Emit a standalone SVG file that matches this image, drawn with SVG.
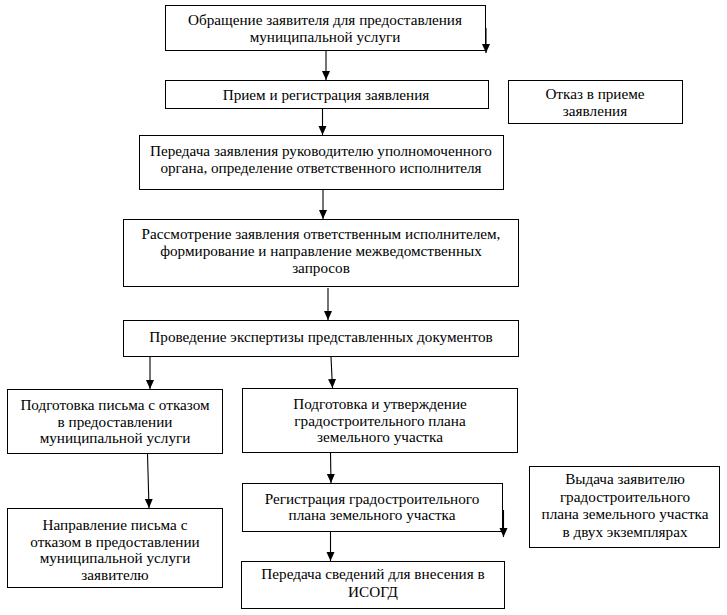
<svg xmlns="http://www.w3.org/2000/svg" width="727" height="615" viewBox="0 0 727 615">
<defs>
<marker id="ah" markerUnits="userSpaceOnUse" markerWidth="9" markerHeight="9" refX="9" refY="4" orient="auto">
<path d="M0,0 L9,4 L0,8 z" fill="#000"/>
</marker>
<style>
rect{fill:#fff;stroke:#000;stroke-width:1}
text{font-family:"Liberation Serif","Times New Roman",serif;font-size:15.2px;fill:#000;text-anchor:middle}
.c line{stroke:#000;stroke-width:1.1;marker-end:url(#ah)}
</style>
</defs>
<rect x="0" y="0" width="727" height="615" style="stroke:none"/>
<g id="n1"><rect x="165.5" y="5.5" width="320" height="45"/><text x="325" y="25">Обращение заявителя для предоставления</text><text x="325" y="42">муниципальной услуги</text></g>
<g id="n2"><rect x="165.5" y="80.5" width="323" height="28"/><text x="326" y="99.5">Прием и регистрация заявления</text></g>
<g id="nR"><rect x="508.5" y="80.5" width="174" height="43"/><text x="595" y="98.5">Отказ в приеме</text><text x="595" y="115.5">заявления</text></g>
<g id="n3"><rect x="139.5" y="135.5" width="364" height="54"/><text x="321" y="155.5">Передача заявления руководителю уполномоченного</text><text x="321" y="172.5">органа, определение ответственного исполнителя</text></g>
<g id="n4"><rect x="123.5" y="219.5" width="395" height="67"/><text x="321" y="238.5">Рассмотрение заявления ответственным исполнителем,</text><text x="321" y="255.5">формирование и направление межведомственных</text><text x="321" y="272.5">запросов</text></g>
<g id="n5"><rect x="123.5" y="320.5" width="395" height="36"/><text x="321" y="341.5">Проведение экспертизы представленных документов</text></g>
<g id="n6"><rect x="7.5" y="389.5" width="215" height="64"/><text x="115" y="410">Подготовка письма с отказом</text><text x="115" y="426.5">в предоставлении</text><text x="115" y="443">муниципальной услуги</text></g>
<g id="n7"><rect x="7.5" y="508.5" width="215" height="79"/><text x="115" y="530">Направление письма с</text><text x="115" y="546.5">отказом в предоставлении</text><text x="115" y="563">муниципальной услуги</text><text x="115" y="579.5">заявителю</text></g>
<g id="n8"><rect x="242.5" y="388.5" width="275" height="64"/><text x="380" y="409">Подготовка и утверждение</text><text x="380" y="425.5">градостроительного плана</text><text x="380" y="442">земельного участка</text></g>
<g id="n9"><rect x="242.5" y="483.5" width="260" height="48"/><text x="372" y="503.5">Регистрация градостроительного</text><text x="372" y="520">плана земельного участка</text></g>
<g id="n10"><rect x="529.5" y="466.5" width="190" height="81"/><text x="625" y="484">Выдача заявителю</text><text x="625" y="501.5">градостроительного</text><text x="625" y="519">плана земельного участка</text><text x="625" y="536.5">в двух экземплярах</text></g>
<g id="n11"><rect x="241.5" y="561.5" width="263" height="47"/><text x="373" y="579">Передача сведений для внесения в</text><text x="373" y="597">ИСОГД</text></g>
<g class="c" id="connectors">
<line x1="326" y1="51" x2="326" y2="80"/>
<line x1="486" y1="28" x2="486" y2="53"/>
<line x1="322.5" y1="109" x2="322.5" y2="135"/>
<line x1="323" y1="190" x2="323" y2="219"/>
<line x1="328" y1="288" x2="328" y2="320"/>
<line x1="150" y1="357" x2="150" y2="389"/>
<line x1="331" y1="357" x2="332.5" y2="388"/>
<line x1="147.5" y1="454" x2="149" y2="508"/>
<line x1="330.5" y1="453" x2="331" y2="483"/>
<line x1="503.5" y1="510" x2="503.5" y2="537"/>
<line x1="330.5" y1="532" x2="330.5" y2="561"/>
</g>
</svg>
